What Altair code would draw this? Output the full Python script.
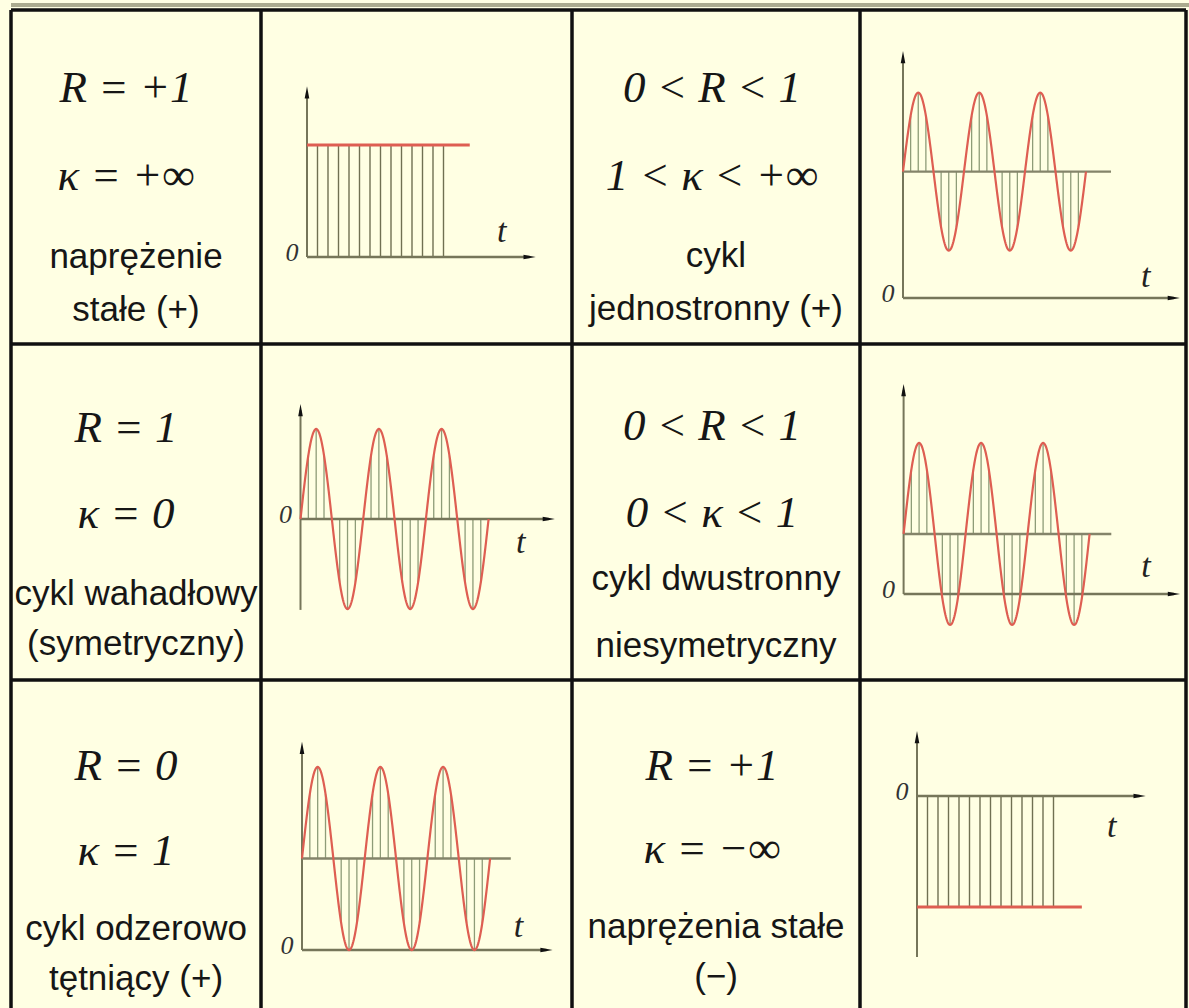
import numpy as np
import pandas as pd
import altair as alt

# ---------------------------------------------------------------- content
# description cells, in reading order (row by row, left to right)
FORMULA_R = ["R = +1", "0 < R < 1", "R = 1", "0 < R < 1", "R = 0", "R = +1"]
FORMULA_KAPPA = ["κ = +∞", "1 < κ < +∞", "κ = 0", "0 < κ < 1", "κ = 1", "κ = −∞"]
NAME_LINE1 = ["naprężenie", "cykl", "cykl wahadłowy", "cykl dwustronny",
              "cykl odzerowo", "naprężenia stałe"]
NAME_LINE2 = ["stałe (+)", "jednostronny (+)", "(symetryczny)", "niesymetryczny",
              "tętniący (+)", "(−)"]

# stress cycles drawn next to each description:
# mean stress and amplitude (in units of the amplitude, or of the constant stress)
SIGMA_MEAN = [1.0, 1.6, 0.0, 0.66, 1.0, -1.0]
SIGMA_AMP = [0.0, 1.0, 1.0, 1.0, 1.0, 0.0]
N_CYCLES = 3
HATCH_PER_CYCLE = 8
N_HATCH_CONST = 14

# ---------------------------------------------------------------- layout
W, H = 1189, 1008
COL_EDGES = [11, 261, 572, 860, 1186]
ROW_EDGES = [10, 344, 680]
TEXT_COL = [0, 2, 0, 2, 0, 2]
BASELINES = [[102, 190, 268, 321], [102, 190, 267, 320],
             [442, 528, 605, 655], [440, 527, 590, 657],
             [780, 865, 940, 990], [780, 863, 938, 988]]
FORMULA_X = {0: 126, 2: 712}
NAME_X = {0: 136, 2: 716}

# plot frames: origin (x0, y0) in px, px per unit of t (kx) and of stress (ky),
# extent of the drawn axes and of the mean line, offset of the "t" label
PANELS = [
    dict(x0=307.0, kx=10.5, y0=257.0, ky=112.0, t_end=21.2, s_lo=0.0, s_hi=1.47, line_end=15.5, t_dy=-25),
    dict(x0=903.0, kx=61.0, y0=298.0, ky=79.0, t_end=4.44, s_lo=0.0, s_hi=3.05, line_end=3.41, t_dy=-21),
    dict(x0=300.5, kx=62.7, y0=519.0, ky=90.0, t_end=3.96, s_lo=-1.01, s_hi=1.21, line_end=None, t_dy=24),
    dict(x0=903.6, kx=62.0, y0=594.0, ky=91.0, t_end=4.36, s_lo=0.0, s_hi=2.24, line_end=3.35, t_dy=-27),
    dict(x0=302.0, kx=62.7, y0=950.0, ky=91.5, t_end=3.90, s_lo=0.0, s_hi=2.21, line_end=3.33, t_dy=-23),
    dict(x0=917.0, kx=10.5, y0=796.0, ky=111.0, t_end=21.2, s_lo=-1.45, s_hi=0.53, line_end=15.7, t_dy=31),
]

BG = "#FFFFE3"
INK = "#161616"
RED = "#DE5E52"
AXIS = "#76765A"
HATCH_SINE = "#8E9C78"
HATCH_CONST = "#707052"
SERIF = "Liberation Serif"
SANS = "Liberation Sans"

PX = dict(scale=None, axis=None)


def pxx(f):
    return alt.X(f, **PX)


def pxy(f):
    return alt.Y(f, **PX)


# ---------------------------------------------------------------- table grid
grid_v = pd.DataFrame({"x": COL_EDGES, "y": ROW_EDGES[0], "y2": H})
grid_h = pd.DataFrame({"y": ROW_EDGES, "x": COL_EDGES[0], "x2": COL_EDGES[-1]})
top_band = pd.DataFrame({"y": [ROW_EDGES[0] - 5], "x": [COL_EDGES[0]], "x2": [W]})

layers = [
    alt.Chart(top_band).mark_rule(color="#ABAB8F", strokeWidth=4).encode(
        x=pxx("x:Q"), x2="x2:Q", y=pxy("y:Q")),
    alt.Chart(grid_v).mark_rule(color="#101010", strokeWidth=3.5).encode(
        x=pxx("x:Q"), y=pxy("y:Q"), y2="y2:Q"),
    alt.Chart(grid_h).mark_rule(color="#101010", strokeWidth=3.5).encode(
        y=pxy("y:Q"), x=pxx("x:Q"), x2="x2:Q"),
]

# ---------------------------------------------------------------- texts
form_rows, name_rows = [], []
for i in range(6):
    c = TEXT_COL[i]
    b = BASELINES[i]
    form_rows += [dict(text=FORMULA_R[i], x=FORMULA_X[c], y=b[0]),
                  dict(text=FORMULA_KAPPA[i], x=FORMULA_X[c], y=b[1])]
    name_rows += [dict(text=NAME_LINE1[i], x=NAME_X[c], y=b[2]),
                  dict(text=NAME_LINE2[i], x=NAME_X[c], y=b[3])]

layers.append(
    alt.Chart(pd.DataFrame(form_rows)).mark_text(
        font=SERIF, fontStyle="italic", fontSize=45, color=INK,
        align="center", baseline="alphabetic").encode(
        x=pxx("x:Q"), y=pxy("y:Q"), text="text:N"))
layers.append(
    alt.Chart(pd.DataFrame(name_rows)).mark_text(
        font=SANS, fontSize=35, color=INK,
        align="center", baseline="alphabetic").encode(
        x=pxx("x:Q"), y=pxy("y:Q"), text="text:N"))

# ---------------------------------------------------------------- stress plots
UP = "M0,-1L0.38,1L-0.38,1Z"
RIGHT = "M1,0L-1,-0.38L-1,0.38Z"


def panel(i):
    L = PANELS[i]
    m, a = SIGMA_MEAN[i], SIGMA_AMP[i]
    xs = alt.Scale(domain=[0, 1], range=[L["x0"], L["x0"] + L["kx"]], nice=False, zero=False)
    ys = alt.Scale(domain=[0, 1], range=[L["y0"], L["y0"] - L["ky"]], nice=False, zero=False)

    def X(f):
        return alt.X(f, scale=xs, axis=None)

    def Y(f):
        return alt.Y(f, scale=ys, axis=None)

    parts = []
    if a > 0:
        k = np.arange(N_CYCLES * HATCH_PER_CYCLE + 1)
        th = k / HATCH_PER_CYCLE
        sh = m + a * np.sin(2 * np.pi * th)
        hatch = pd.DataFrame({"t": th, "s0": m, "s1": sh})
        hatch = hatch[np.abs(hatch.s1 - hatch.s0) > 0.05 * a]
        parts.append(alt.Chart(hatch).mark_rule(color=HATCH_SINE, strokeWidth=1.3).encode(
            x=X("t:Q"), y=Y("s0:Q"), y2="s1:Q"))
    else:
        th = np.arange(N_HATCH_CONST, dtype=float)
        hatch = pd.DataFrame({"t": th, "s0": 0.0, "s1": m})
        parts.append(alt.Chart(hatch).mark_rule(color=HATCH_CONST, strokeWidth=1.4).encode(
            x=X("t:Q"), y=Y("s0:Q"), y2="s1:Q"))

    # axes
    vaxis = pd.DataFrame({"t": [0.0], "s0": [L["s_lo"]], "s1": [L["s_hi"]]})
    haxis = pd.DataFrame({"t0": [0.0], "t1": [L["t_end"]], "s": [0.0]})
    parts.append(alt.Chart(vaxis).mark_rule(color=AXIS, strokeWidth=2).encode(
        x=X("t:Q"), y=Y("s0:Q"), y2="s1:Q"))
    parts.append(alt.Chart(haxis).mark_rule(color=AXIS, strokeWidth=2.6).encode(
        x=X("t0:Q"), x2="t1:Q", y=Y("s:Q")))

    # mean stress line
    if a > 0 and L["line_end"] is not None:
        mean = pd.DataFrame({"t0": [0.0], "t1": [L["line_end"]], "s": [m]})
        parts.append(alt.Chart(mean).mark_rule(color="#84846A", strokeWidth=2.4).encode(
            x=X("t0:Q"), x2="t1:Q", y=Y("s:Q")))

    # stress curve
    if a > 0:
        tc = np.linspace(0, N_CYCLES, 361)
        curve = pd.DataFrame({"t": tc, "s": m + a * np.sin(2 * np.pi * tc)})
        parts.append(alt.Chart(curve).mark_line(color=RED, strokeWidth=2.2).encode(
            x=X("t:Q"), y=Y("s:Q"), order="t:Q"))
    else:
        const = pd.DataFrame({"t0": [0.0], "t1": [L["line_end"]], "s": [m]})
        parts.append(alt.Chart(const).mark_rule(color=RED, strokeWidth=3).encode(
            x=X("t0:Q"), x2="t1:Q", y=Y("s:Q")))

    # arrow heads
    parts.append(alt.Chart(pd.DataFrame({"t": [0.0], "s": [L["s_hi"]]})).mark_point(
        shape=UP, size=150, filled=True, color="#111", opacity=1).encode(
        x=X("t:Q"), y=Y("s:Q")))
    parts.append(alt.Chart(pd.DataFrame({"t": [L["t_end"]], "s": [0.0]})).mark_point(
        shape=RIGHT, size=150, filled=True, color="#111", opacity=1).encode(
        x=X("t:Q"), y=Y("s:Q")))

    # axis labels
    parts.append(alt.Chart(pd.DataFrame({"t": [0.0], "s": [0.0], "lab": ["0"]})).mark_text(
        font=SERIF, fontStyle="italic", fontSize=26, color="#333", dx=-15, dy=-4,
        align="center", baseline="middle").encode(
        x=X("t:Q"), y=Y("s:Q"), text="lab:N"))
    parts.append(alt.Chart(pd.DataFrame({"t": [L["t_end"]], "s": [0.0], "lab": ["t"]})).mark_text(
        font=SERIF, fontStyle="italic", fontSize=34, color="#222", dx=-28, dy=L["t_dy"],
        align="center", baseline="middle").encode(
        x=X("t:Q"), y=Y("s:Q"), text="lab:N"))

    return alt.layer(*parts)


for i in range(6):
    layers.append(panel(i))

chart = alt.layer(*layers).resolve_scale(
    x="independent", y="independent"
).properties(
    width=W, height=H, padding=0, background=BG,
    autosize=alt.AutoSizeParams(type="none"),
).configure_view(stroke=None)

chart.save("out.html", embed_options={"renderer": "svg", "actions": False})
